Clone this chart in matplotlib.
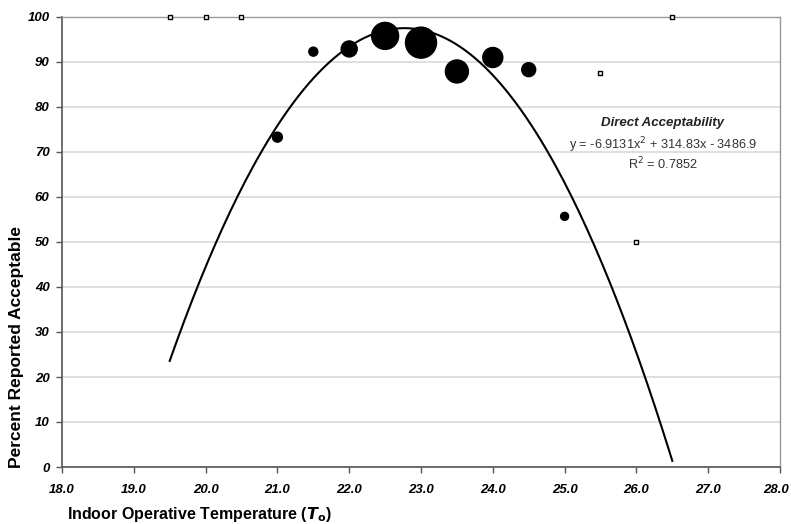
import numpy as np
import matplotlib
matplotlib.use('Agg')
import matplotlib.pyplot as plt
import matplotlib.transforms as mtransforms

plt.rcParams['font.family'] = ['Liberation Sans', 'DejaVu Sans']

# measured points (filled, bubble diameter in px ~ number of responses)
temp = [21.0, 21.5, 22.0, 22.5, 23.0, 23.5, 24.0, 24.5, 25.0]
accept = [73.3, 92.3, 92.9, 95.8, 94.3, 87.9, 91.0, 88.3, 55.7]
bubble_size = [10, 9, 16, 27, 31, 23, 20, 14, 8]

# sparse bins (open squares)
temp_sparse = [19.5, 20.0, 20.5, 25.5, 26.0, 26.5]
accept_sparse = [100, 100, 100, 87.6, 50.1, 100]

# quadratic trendline
coef = [-6.9131, 314.83, -3486.9]
fit_range = (19.5, 26.5)

xticks = np.arange(18, 28.1, 1.0)
yticks = np.arange(0, 101, 10)

fig = plt.figure(figsize=(7.91, 5.24), dpi=100)
ax = fig.add_axes([62 / 791, 1 - 467 / 524, 718 / 791, 450 / 524])

xs = np.linspace(fit_range[0], fit_range[1], 200)
ax.plot(xs, np.polyval(coef, xs), color='black', lw=1.5, zorder=3)

ax.scatter(temp, accept, s=(np.array(bubble_size) * 0.72) ** 2,
           color='black', zorder=4, clip_on=False)
ax.scatter(temp_sparse, accept_sparse, marker='s', s=12, facecolor='white',
           edgecolor='black', linewidths=1.0, zorder=4, clip_on=False)

ax.set_xlim(18, 28)
ax.set_ylim(0, 100)
ax.set_xticks(xticks)
ax.set_yticks(yticks)
ax.set_xticklabels(['%.1f' % t for t in xticks], fontsize=9.5,
                   fontweight='bold', style='italic')
ax.set_yticklabels(['%d' % t for t in yticks], fontsize=9.5,
                   fontweight='bold', style='italic')
ax.tick_params(axis='x', direction='out', length=4, width=1, color='#555555', pad=8)
ax.tick_params(axis='y', direction='out', length=4, width=1, color='#555555', pad=5)

# keep the last x label inside the figure edge
last = ax.get_xticklabels()[-1]
last.set_transform(last.get_transform() +
                   mtransforms.ScaledTranslation(-4 / 100, 0, fig.dpi_scale_trans))

ax.grid(axis='y', color='#d9d9d9', lw=1.2, zorder=0)
ax.set_axisbelow(True)
for side in ['left', 'bottom']:
    ax.spines[side].set_color('#555555')
    ax.spines[side].set_linewidth(1.2)
for side in ['right', 'top']:
    ax.spines[side].set_color('#999999')
    ax.spines[side].set_linewidth(1.0)

fig.text(17 / 791, 1 - 347 / 524, 'Percent Reported Acceptable', rotation=90,
         fontsize=12.5, fontweight='bold', va='center', ha='center')
fig.text(67 / 791, 1 - 515 / 524,
         r'Indoor Operative Temperature ($\boldsymbol{T}_{\mathbf{o}}$)',
         fontsize=11.5, fontweight='bold', va='center', ha='left')

ax.text(26.37, 76.4, 'Direct Acceptability', fontsize=9.5, fontweight='bold',
        style='italic', ha='center', va='center', color='#222222')
ax.text(26.37, 71.6, r'y = -6.9131x$^2$ + 314.83x - 3486.9', fontsize=9.2,
        ha='center', va='center', color='#333333')
ax.text(26.37, 67.4, r'R$^2$ = 0.7852', fontsize=9.2,
        ha='center', va='center', color='#333333')

fig.savefig('out.png', dpi=100)
